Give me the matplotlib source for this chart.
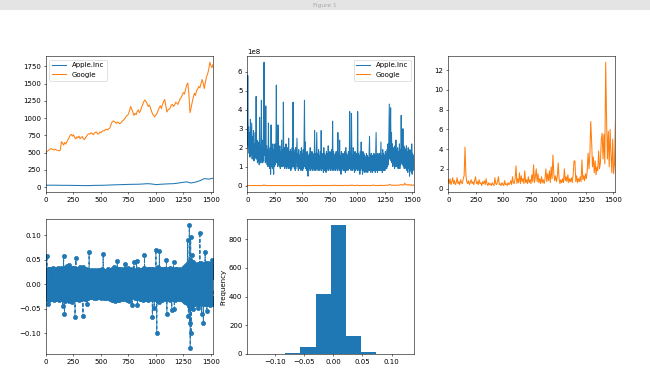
import numpy as np
import matplotlib.pyplot as plt
from matplotlib.patches import Rectangle

# closing prices (Google every 10 days, Apple every 40 days)
google_close = [500, 520, 530, 545, 555, 560, 548, 540, 552, 545,
                535, 530, 528, 535, 660, 640, 610, 650, 625, 660,
                690, 720, 755, 765, 740, 760, 720, 700, 730, 715,
                740, 705, 720, 735, 700, 690, 720, 740, 765, 775,
                770, 790, 780, 760, 785, 795, 800, 770, 775, 800,
                790, 810, 820, 815, 835, 840, 830, 845, 855, 900,
                940, 960, 955, 940, 925, 945, 935, 920, 930, 950,
                965, 980, 1000, 1030, 1040, 1060, 1110, 1170, 1130, 1090,
                1040, 1070, 1050, 1100, 1120, 1080, 1110, 1160, 1200, 1240,
                1265, 1240, 1210, 1170, 1190, 1150, 1100, 1060, 1040, 1020,
                1050, 1070, 1110, 1150, 1180, 1140, 1200, 1240, 1270, 1180,
                1090, 1120, 1130, 1150, 1190, 1200, 1170, 1190, 1230, 1220,
                1200, 1240, 1280, 1300, 1340, 1370, 1350, 1420, 1480, 1510,
                1350, 1080, 1150, 1230, 1300, 1360, 1330, 1400, 1420, 1460,
                1440, 1500, 1560, 1510, 1430, 1520, 1600, 1640, 1700, 1810,
                1760, 1730, 1780]
apple_close = [29, 30, 30, 29, 28, 28, 27, 26, 25, 24,
               25, 27, 28, 29, 31, 34, 36, 38, 40, 42,
               43, 44, 47, 52, 48, 38, 43, 47, 50, 52,
               60, 70, 78, 62, 75, 95, 125, 118, 130]

# Apple volume every 4 days, in 1e8 shares
apple_volume = [
    2.2, 5.8, 2.0, 3.1, 1.7, 2.8, 1.5, 3.5, 1.6, 2.4, 3.3, 1.4, 2.6, 1.5, 2.9, 1.3, 2.2, 1.4, 2.8, 1.5,
    4.7, 1.4, 2.4, 1.2, 2.0, 1.3, 2.3, 1.1, 3.6, 1.3, 2.1, 1.2, 4.5, 1.4, 2.4, 1.2, 2.0, 1.3, 6.5, 1.6,
    2.2, 1.2, 4.2, 1.3, 2.1, 1.1, 1.9, 1.0, 3.3, 1.1, 1.8, 0.9, 2.0, 0.6, 3.2, 1.0, 1.7, 0.9, 2.2, 1.0,
    0.6, 1.9, 1.0, 2.2, 1.1, 1.8, 5.3, 1.2, 2.0, 1.0, 3.2, 1.1, 1.9, 1.0, 2.1, 0.9, 1.8, 1.0, 2.4, 1.0,
    1.9, 1.0, 4.4, 1.1, 2.0, 0.9, 1.8, 1.0, 2.2, 0.9, 1.7, 1.0, 2.0, 0.9, 2.5, 1.0, 1.8, 0.9, 1.9, 0.8,
    1.8, 0.9, 2.0, 1.0, 4.4, 1.0, 1.9, 0.9, 1.7, 0.8, 2.0, 0.9, 1.8, 2.5, 1.0, 1.7, 0.8, 1.9, 0.9, 1.6,
    0.9, 1.8, 0.8, 2.0, 0.9, 1.7, 0.8, 1.9, 0.9, 2.2, 4.5, 1.0, 2.3, 0.9, 1.7, 0.8, 1.8, 0.9, 0.5, 1.6,
    0.8, 1.7, 0.9, 2.0, 0.8, 1.6, 0.9, 1.8, 0.8, 1.7, 0.9, 1.6, 0.8, 2.9, 0.9, 1.7, 0.8, 1.8, 2.8, 0.9,
    1.7, 0.8, 1.9, 0.9, 1.6, 0.8, 1.8, 0.9, 2.9, 0.8, 1.7, 0.9, 1.6, 0.7, 2.0, 0.8, 1.7, 0.9, 1.6, 0.7,
    1.8, 0.8, 1.7, 0.9, 2.1, 0.8, 1.6, 0.9, 1.8, 0.8, 1.7, 0.9, 1.9, 0.8, 3.4, 0.9, 1.8, 0.8, 1.6, 0.9,
    1.7, 0.8, 1.8, 0.9, 1.6, 0.8, 2.8, 0.9, 1.7, 0.8, 2.4, 0.9, 1.6, 0.6, 1.8, 0.8, 1.7, 0.9, 1.6, 0.8,
    1.7, 0.8, 1.8, 0.7, 2.0, 0.8, 1.7, 0.9, 1.6, 0.8, 1.8, 0.9, 1.7, 3.9, 0.9, 1.7, 0.8, 3.8, 0.9, 1.6,
    0.8, 2.0, 0.9, 1.7, 0.7, 1.8, 0.8, 1.6, 0.9, 1.7, 0.8, 3.9, 0.9, 1.7, 0.8, 1.6, 0.6, 1.8, 0.8, 2.3,
    0.9, 1.6, 0.6, 1.8, 0.8, 1.7, 0.7, 1.6, 0.8, 1.5, 0.7, 1.7, 0.8, 1.6, 0.7, 1.5, 0.8, 1.7, 2.6, 0.8,
    1.6, 0.7, 1.7, 0.8, 1.6, 0.7, 1.5, 0.8, 1.7, 0.8, 1.6, 0.7, 1.8, 2.8, 0.8, 1.6, 0.7, 1.7, 0.8, 1.6,
    0.8, 1.7, 0.8, 1.6, 2.3, 0.8, 1.6, 0.7, 1.9, 0.8, 1.7, 0.8, 1.6, 0.8, 1.8, 0.9, 1.7, 0.9, 1.9, 1.0,
    2.2, 1.1, 2.6, 4.3, 1.4, 2.5, 4.1, 1.3, 2.8, 1.2, 2.2, 1.0, 2.0, 1.1, 1.8, 0.9, 2.1, 1.0, 2.4, 1.0,
    1.9, 1.0, 2.0, 0.9, 1.8, 1.0, 2.2, 0.9, 1.9, 1.1, 3.7, 1.2, 2.4, 1.1, 3.0, 1.0, 2.1, 0.9, 2.0, 1.0,
    1.9, 0.9, 2.1, 0.8, 1.8, 0.7, 2.0, 0.9, 1.8, 0.5, 1.9, 0.8, 1.8, 0.7, 2.2, 0.6, 1.7, 0.9, 1.6, 0.8,
    1.4]

# Google volume every 8 days, in millions of shares
google_volume = [0.9, 0.5, 1.0, 0.4, 0.7, 1.1, 0.5, 0.8, 0.4, 0.6,
                 1.1, 0.5, 0.7, 0.4, 0.9, 0.6, 0.5, 1.0, 1.3, 4.2,
                 1.4, 0.7, 0.5, 0.8, 0.4, 0.6, 0.9, 0.5, 0.7, 0.4,
                 0.8, 1.2, 0.5, 0.7, 0.4, 0.9, 0.5, 0.6, 0.3, 0.7,
                 0.5, 0.8, 0.4, 1.0, 0.5, 0.3, 0.6, 0.4, 0.5, 0.3,
                 0.6, 0.4, 0.3, 1.1, 0.5, 0.4, 0.7, 1.2, 0.4, 0.5,
                 0.3, 0.6, 0.4, 0.3, 0.8, 0.4, 0.5, 0.3, 0.6, 0.4,
                 0.5, 0.8, 0.4, 1.2, 0.6, 0.5, 1.0, 2.3, 0.5, 1.0,
                 0.6, 1.6, 0.5, 1.3, 0.7, 1.0, 0.5, 1.8, 0.6, 0.9,
                 0.5, 1.2, 0.6, 0.9, 0.5, 1.4, 0.7, 2.4, 0.6, 1.2,
                 2.0, 0.7, 1.5, 0.6, 1.0, 0.5, 1.2, 0.6, 0.9, 0.5,
                 1.0, 2.0, 0.7, 1.5, 0.8, 1.8, 0.6, 2.2, 1.0, 3.4,
                 1.5, 0.8, 1.3, 0.7, 1.2, 2.6, 1.0, 0.5, 0.9, 0.6,
                 1.0, 0.6, 2.0, 0.8, 1.2, 0.7, 1.4, 0.6, 1.0, 0.7,
                 1.1, 0.6, 1.4, 2.8, 2.8, 0.7, 1.3, 0.6, 1.0, 0.7,
                 1.2, 0.7, 2.9, 0.9, 1.3, 0.8, 1.5, 1.0, 1.8, 3.6,
                 2.0, 3.4, 6.8, 4.8, 2.2, 3.2, 1.6, 2.8, 1.4, 2.2,
                 1.8, 3.8, 2.0, 2.6, 5.0, 5.6, 3.0, 5.5, 2.5, 12.8,
                 7.0, 3.0, 5.8, 2.2, 6.0, 3.5, 1.6, 5.0, 1.5, 2.5,
                 6.8]

# daily returns in percent, every 2 days
returns_pct = [
    1.5, -2.8, 2.5, -2.2, 5.7, -3.0, 2.8, -1.0, -4.0, 3.0, -2.5, 0.8, -3.2, 2.6, -1.8, 3.1, 0.3, -2.9, 2.2, -1.5,
    2.9, -3.0, 1.0, -2.2, 3.0, -0.5, 2.4, -3.1, 1.8, -2.6, 2.7, -1.2, 3.2, -2.8, 0.6, -3.3, 2.5, -2.0, 2.8, -2.6,
    2.4, -3.1, 1.4, -2.7, 2.9, -1.6, 3.1, -2.4, 0.9, -3.0, 2.6, -1.9, 2.8, -2.9, 1.2, -2.5, 3.2, -0.7, 2.5, -3.2,
    2.0, -2.6, 3.0, -1.3, 2.7, -3.0, 1.6, -2.4, 3.3, -1.0, 2.6, -2.8, 0.5, -3.1, 2.9, -2.0, -4.5, 2.2, -2.7, 3.0,
    5.8, -1.5, 2.6, -3.0, -6.2, 3.3, -2.4, 2.0, -3.5, 3.4, -0.8, 2.6, -3.0, 1.5, -2.7, 3.6, -1.9, 2.8, -3.2, 0.9,
    3.5, -2.5, 2.1, -3.4, 3.0, -1.0, 3.8, -2.9, 1.7, -2.6, 3.1, -2.2, 0.8, -3.0, 2.7, -1.5, 3.2, -2.8, 2.4, -3.6,
    1.2, -2.6, 3.3, -1.7, 2.9, -3.1, 0.7, 3.0, -2.4, 1.9, -2.8, 3.2, -6.7, 2.2, -1.4, 2.5, 5.4, -3.0, 2.7, -1.6,
    3.1, -3.0, 0.5, -2.9, 2.4, -2.0, 3.0, -2.7, 1.3, -3.2, 2.8, -1.1, 2.6, -2.5, 3.4, -0.9, 2.2, -3.1, 1.8, -2.4,
    2.2, -3.0, 1.3, -2.4, 2.8, -0.9, 2.6, -2.5, -6.5, 3.4, -2.2, 1.0, -2.9, 2.7, -1.6, 3.1, -3.0, 0.5, 2.4, -2.0,
    3.0, -2.7, 1.7, -3.0, 2.9, -1.1, 2.3, -2.5, -4.0, 2.6, -1.5, -2.8, 2.4, -0.7, 2.9, -2.3, 6.5, -2.6, 2.2, -1.8,
    2.7, -2.4, 0.4, 2.4, -2.6, 1.1, -2.0, 2.8, -1.3, 2.2, -2.7, 0.8, 2.5, -2.2, 1.7, -2.5, 2.6, -0.6, 2.0, -2.8,
    2.4, -1.4, 2.8, -2.6, 1.0, -2.3, 2.6, -1.6, 2.3, -2.8, 0.9, 2.7, -2.1, 1.5, -2.6, 2.5, -0.8, 2.9, -2.4, 1.2,
    -2.7, 2.3, -1.8, 2.4, -2.6, 0.7, 2.8, -2.2, 1.6, -2.9, 2.5, -1.0, 2.7, -2.5, 1.3, -2.3, 3.0, -1.9, 2.2, -1.5,
    6.1, -2.4, 1.1, -2.8, 2.6, -0.9, 2.4, -1.7, 2.1, -2.8, 0.6, 2.3, -2.6, 1.4, -2.6, 2.7, -0.5, 2.3, -2.9, 1.8,
    -2.2, 3.0, -1.3, 2.5, -2.7, 0.8, 2.6, -2.4, 1.6, -3.0, 2.6, -1.1, 2.9, -2.5, 1.2, -3.1, 2.8, -0.7, 2.4, -2.9,
    1.9, -3.3, 3.0, -1.6, 2.4, -2.7, 2.0, -3.2, 1.4, -2.8, 3.4, -2.3, -3.5, 2.9, -1.2, 3.1, -3.0, 1.7, 2.5, -2.6,
    2.4, -3.1, 1.0, -2.5, 4.7, -1.5, 3.0, -2.8, -3.3, 2.7, -3.2, 1.8, -2.4, 3.1, -1.2, 2.5, -1.3, 2.8, -2.9, 1.2,
    -2.7, 3.0, -1.6, 2.5, -3.1, 2.1, -2.9, 2.2, -1.4, 2.9, -2.8, 0.9, 2.6, -1.0, 3.0, -2.6, 1.9, -3.0, 2.4, -1.8,
    4.0, -2.5, 0.8, 2.6, -3.0, 1.5, -2.4, 3.1, -1.2, 2.8, -3.2, 2.0, -2.6, 3.3, -0.9, 2.5, -3.4, 2.2, -2.6, 1.8,
    2.5, -2.9, 1.3, -2.6, 2.8, -1.1, 2.4, -2.7, 1.6, -2.2, 3.0, -1.8, -4.3, 2.2, -1.5, 2.6, -2.5, 1.0, 2.7, -2.3,
    4.5, -2.4, 1.1, -2.8, 2.6, -0.9, 2.3, -1.7, 2.8, -2.3, 1.4, -2.6, 4.7, -0.5, 2.3, -2.9, -4.2, 1.8, -2.2, 3.0,
    -1.3, 2.5, -2.7, 0.8, 2.6, -2.4, 1.6, -3.0, 2.6, -1.1, 2.9, -2.5, 1.2, -3.1, 2.8, -0.7, 2.4, -2.9, 1.9, -3.3,
    3.0, -1.6, 2.7, -2.0, 3.2, -2.8, 1.4, -2.8, 5.9, -2.3, 2.9, -1.2, 3.1, -3.0, 1.7, -2.6, 2.4, -3.1, 1.0, -2.5,
    2.9, -1.5, 3.0, -2.8, 0.6, 2.7, -3.2, 1.8, -2.4, 3.1, -1.3, 2.5, -2.9, 1.2, -2.7, 3.0, -1.6, 2.5, -3.1, 2.9,
    -2.2, 1.4, 3.0, -2.8, -6.7, 2.6, -1.0, 3.0, -2.6, 1.9, -3.0, 2.4, -4.8, 2.9, -2.5, 0.8, 2.6, -3.0, 1.5, -2.4,
    7.0, -1.2, 2.8, -3.2, -10.0, 2.6, -2.6, 3.3, -0.9, 3.5, -3.4, 2.2, -3.6, 2.9, -1.7, 3.1, 6.8, -2.6, 2.4, -3.1,
    1.0, -2.5, 2.9, -1.5, 3.0, -2.8, 0.6, 2.7, -3.2, 1.8, -2.4, 3.1, -1.3, 2.8, -2.9, 1.2, -2.7, 3.0, -1.6, 2.5,
    -3.1, 2.9, -2.2, 1.4, -2.8, 2.6, -1.0, 3.0, 5.0, -2.6, -6.0, 2.4, -1.8, 2.9, -2.5, 0.8, 2.6, -3.0, 1.5, -2.4,
    3.1, -1.2, 2.8, -3.2, 2.0, -2.6, 3.3, -0.9, 3.0, -2.7, 2.2, -2.5, -5.3, 2.9, -1.7, 3.1, -2.6, 2.4, -3.1, 1.0,
    4.5, -2.5, 2.9, -1.5, -5.0, 3.0, -2.8, 0.6, 2.7, -3.2, 1.8, -2.4, 3.1, -1.3, 2.8, -2.9, 1.2, -2.7, 3.0, -1.6,
    2.5, -3.1, 2.9, -2.2, 1.4, -2.8, 2.6, -1.0, 3.0, -2.6, 1.9, -3.0, 2.4, -1.8, 2.9, -2.5, 0.8, 2.6, -3.0, 1.5,
    -2.4, 3.1, -1.2, 2.8, -3.2, 2.0, -2.6, 3.3, -0.9, 3.5, -3.4, 2.2, -3.6, 3.0, -1.7, 3.4, -3.3, 2.6, -3.7, 3.8,
    -2.5, 3.6, -3.9, 1.8, 9.0, -3.9, 4.2, -2.0, -6.5, 4.2, -4.5, 3.0, 12.0, -4.8, -8.0, 5.0, -13.0, 4.4, 9.5, -3.5,
    -10.0, 3.5, -2.8, 4.4, 6.0, -4.2, 3.6, -2.6, -5.0, 4.4, -2.8, 3.6, -4.0, 1.8, -3.7, 4.0, -2.4, 3.3, -4.1, 2.0,
    -3.6, 3.8, -1.6, 3.5, -3.9, 2.7, -3.2, 4.1, -2.5, 3.6, -4.0, 2.9, -4.8, 3.4, -1.9, 4.0, -3.6, 2.4, -4.1, 3.7,
    10.5, -3.9, 2.7, -3.2, 4.0, -1.2, 4.2, -3.9, -6.0, 2.6, -3.4, 4.1, -2.5, 3.6, -4.0, 2.9, -8.0, 3.8, -2.4, 4.0,
    -3.7, 2.6, -4.1, 3.3, 6.5, -2.6, 4.2, -3.8, 1.9, -4.0, 3.9, -1.9, -5.5, 4.0, -3.6, 2.4, -4.1, 3.7, -1.2, 4.2,
    -3.9, 2.6, -3.4, 4.0, -2.5, 3.5, -4.2, 2.0, -3.3, 4.1, -1.6, 3.8, -3.6, 2.9, -4.0, 2.3, 5.0, -3.4, 3.2, -2.8,
    1.5]

# histogram of returns
hist_edges = [-0.134, -0.108, -0.082, -0.056, -0.030, -0.004, 0.022, 0.048, 0.074, 0.100, 0.126]
hist_counts = [1, 2, 8, 50, 415, 895, 125, 15, 3, 2]

DPI = 50
fig = plt.figure(figsize=(650 / DPI, 379 / DPI), dpi=DPI)

# window title bar of the screenshot
fig.patches.append(Rectangle((0, 1 - 10 / 379), 1, 10 / 379, transform=fig.transFigure,
                             facecolor='#e4e4e4', edgecolor='none'))
fig.text(0.5, 1 - 5 / 379, 'Figure 1', ha='center', va='center', fontsize=8.5, color='#a8a8a8')

W, H1, H2 = 0.257, 0.358, 0.356
ax1 = fig.add_axes([0.0708, 0.494, W, H1])
ax2 = fig.add_axes([0.3805, 0.494, W, H1])
ax3 = fig.add_axes([0.6897, 0.494, W, H1])
ax4 = fig.add_axes([0.0708, 0.066, W, H2])
ax5 = fig.add_axes([0.3805, 0.066, W, H2])

x_google = np.arange(len(google_close)) * 10
x_apple = np.arange(len(apple_close)) * 40
x_avol = np.arange(len(apple_volume)) * 4
x_gvol = np.arange(len(google_volume)) * 8
x_ret = np.arange(len(returns_pct)) * 2
xmax = x_ret[-1]

ax1.plot(x_apple, apple_close, label='Apple.Inc')
ax1.plot(x_google, google_close, label='Google')
ax1.legend(loc='upper left')
ax1.set_yticks(np.arange(0, 1751, 250))

ax2.plot(x_avol, np.array(apple_volume) * 1e8, label='Apple.Inc')
ax2.plot(x_gvol, np.array(google_volume) * 1e6, label='Google')
ax2.legend(loc='upper right')
ax2.set_yticks(np.arange(0, 7) * 1e8)

ax3.plot(x_gvol, google_volume, color='C1')
ax3.set_yticks(np.arange(0, 13, 2))

ax4.plot(x_ret, np.array(returns_pct) / 100, 'o--', color='C0')
ax4.set_yticks([-0.10, -0.05, 0.0, 0.05, 0.10])

ax5.hist(hist_edges[:-1], bins=hist_edges, weights=hist_counts, color='C0')
ax5.set_ylabel('Frequency')
ax5.set_yticks([0, 200, 400, 600, 800])
ax5.set_xticks([-0.10, -0.05, 0.0, 0.05, 0.10])

for ax in (ax1, ax2, ax3, ax4):
    ax.set_xlim(0, xmax)
    ax.set_xticks([0, 250, 500, 750, 1000, 1250, 1500])

fig.savefig('out.png', dpi=DPI)
